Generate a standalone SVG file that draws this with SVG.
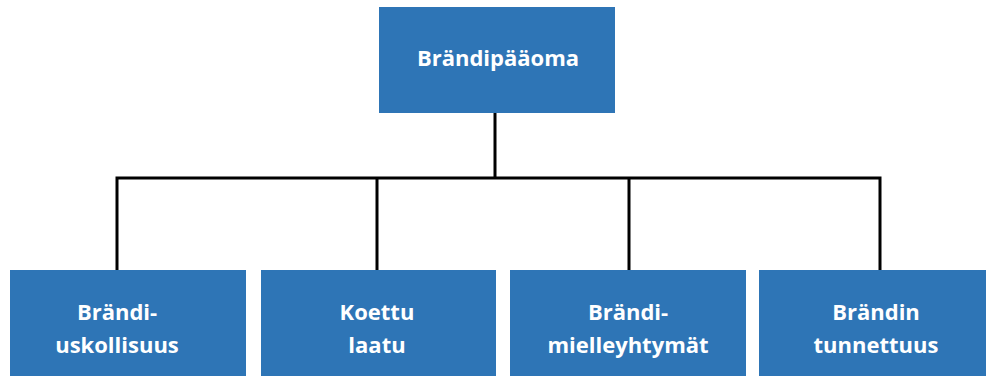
<svg xmlns="http://www.w3.org/2000/svg" width="987" height="376" viewBox="0 0 987 376">
<style>
.box{fill:#2E75B6}
.t{fill:#fff;font-family:"Open Sans","Liberation Sans",sans-serif;font-weight:bold;font-size:22px;text-anchor:middle}
.c{fill:none;stroke:#000;stroke-width:3}
</style>
<rect width="987" height="376" fill="#fff"/>
<g id="connectors">
<path class="c" d="M495 113V178M117 178H880M117 176.5V270M377 176.5V270M629 176.5V270M880 176.5V270"/>
</g>
<g id="n0"><rect class="box" x="379" y="7" width="236" height="106"/><text class="t" x="498" y="66">Brändipääoma</text></g>
<g id="n1"><rect class="box" x="10" y="270" width="236" height="106"/><text class="t" x="117" y="320">Brändi-</text><text class="t" x="117" y="353">uskollisuus</text></g>
<g id="n2"><rect class="box" x="261" y="270" width="235" height="106"/><text class="t" x="377" y="320">Koettu</text><text class="t" x="377" y="353">laatu</text></g>
<g id="n3"><rect class="box" x="510" y="270" width="236" height="106"/><text class="t" x="628" y="320">Brändi-</text><text class="t" x="628" y="353">mielleyhtymät</text></g>
<g id="n4"><rect class="box" x="759" y="270" width="227" height="106"/><text class="t" x="876" y="320">Brändin</text><text class="t" x="876" y="353">tunnettuus</text></g>
</svg>
